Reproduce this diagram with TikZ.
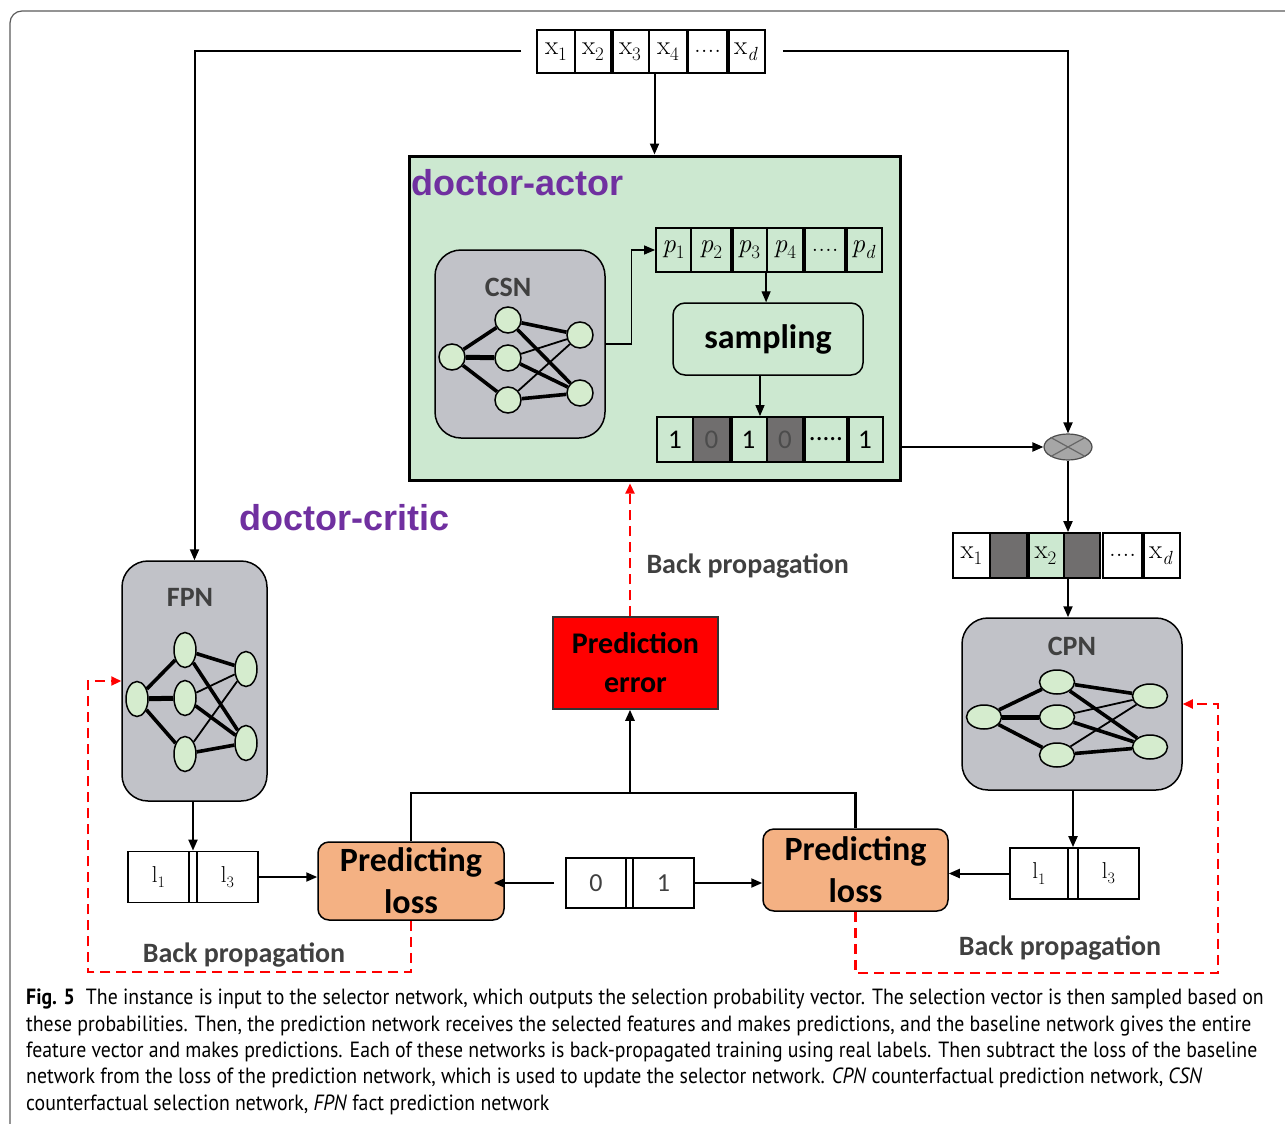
\documentclass[tikz,border=0pt]{standalone}
\usepackage{fontspec}
\newfontfamily\calf{Carlito}
\newfontfamily\arf{Liberation Sans}
\newfontfamily\capf[FakeStretch=0.9]{PT Sans}
\usetikzlibrary{arrows.meta,shapes.geometric}
\definecolor{actgreen}{RGB}{204,232,208}
\definecolor{netgray}{RGB}{193,194,200}
\definecolor{nodegreen}{RGB}{213,236,206}
\definecolor{cellgray}{RGB}{112,110,110}
\definecolor{lossor}{RGB}{244,177,131}
\definecolor{purp}{RGB}{112,48,160}
\definecolor{labgray}{RGB}{64,64,64}
\definecolor{framegray}{RGB}{90,90,90}
\newcommand\mysub[1]{\raisebox{-0.22em}{\fontsize{19}{20}\selectfont #1}}
\newcommand\xs[1]{x\mysub{#1}}
\newcommand\xps[1]{\textit{p}\mysub{#1}}
\newcommand\xls[1]{l\raisebox{-0.22em}{\fontsize{16}{18}\selectfont #1}}
\tikzset{
  cellA/.style={draw, line width=1.8pt, inner sep=0pt, minimum height=43pt, font=\fontsize{27}{30}\selectfont},
  cellB/.style={draw, line width=1.8pt, inner sep=0pt, minimum height=45pt, font=\calf\fontsize{27}{30}\selectfont},
  cellL/.style={draw, line width=1.8pt, inner sep=0pt, minimum height=51pt, font=\fontsize{23}{26}\selectfont},
  cellM/.style={draw, line width=1.8pt, inner sep=0pt, minimum height=50pt, font=\calf\fontsize{26}{30}\selectfont, text=black!75},
  thickdiv/.style={line width=4.5pt},
  arr/.style={-{Triangle[length=11pt,width=9pt]}, line width=2pt},
  rarr/.style={red, dash pattern=on 10pt off 6pt, line width=2.2pt, -{Triangle[length=10pt,width=9pt]}},
  netbox/.style={draw, line width=1.5pt, fill=netgray, rounded corners=26pt},
  nn/.style={ellipse, draw, fill=nodegreen, line width=1.5pt, inner sep=0pt},
  netlab/.style={font=\calf\bfseries\fontsize{28}{30}\selectfont, text=labgray},
  bplab/.style={font=\calf\bfseries\fontsize{28}{30}\selectfont, text=labgray},
  lossbox/.style={draw, line width=1.5pt, fill=lossor, rounded corners=11pt, align=center, font=\calf\bfseries\fontsize{34}{42}\selectfont},
  biglab/.style={font=\arf\bfseries\fontsize{36}{40}\selectfont, text=purp, inner sep=0pt}
}
\newcommand\mynet[9]{%
  \node[nn,minimum width=#8,minimum height=#9] (#1i) at (#2) {};
  \node[nn,minimum width=#8,minimum height=#9] (#1a) at (#3) {};
  \node[nn,minimum width=#8,minimum height=#9] (#1b) at (#4) {};
  \node[nn,minimum width=#8,minimum height=#9] (#1c) at (#5) {};
  \node[nn,minimum width=#8,minimum height=#9] (#1o) at (#6) {};
  \node[nn,minimum width=#8,minimum height=#9] (#1p) at (#7) {};
  \draw[line width=3.6pt] (#1i)--(#1a) (#1i)--(#1c) (#1a)--(#1o) (#1a)--(#1p) (#1b)--(#1p) (#1c)--(#1p);
  \draw[line width=5pt] (#1i)--(#1b);
  \draw[line width=1.8pt] (#1b)--(#1o) (#1c)--(#1o);
}
\begin{document}
\begin{tikzpicture}[x=1pt,y=-1pt]
\useasboundingbox (0,0) rectangle (1285,1124);
% outer frame
\draw[framegray, line width=1.2pt, rounded corners=12pt] (10,1130) -- (10,11) -- (1295,11);

% top feature array
\node[cellA, minimum width=38pt] (xa1) at (556,51.5) {\xs{1}};
\node[cellA, minimum width=36pt] (xa2) at (593,51.5) {\xs{2}};
\node[cellA, minimum width=38pt] (xa3) at (630,51.5) {\xs{3}};
\node[cellA, minimum width=38pt] (xa4) at (668,51.5) {\xs{4}};
\node[cellA, minimum width=39pt] (xa5) at (707.5,51.5) {....};
\node[cellA, minimum width=38pt] (xa6) at (746,51.5) {\xs{\textit{d}}};
\draw[thickdiv] (xa2.north east) -- (xa2.south east) (xa5.north east) -- (xa5.south east);

% doctor-actor
\node[draw, line width=3pt, fill=actgreen, minimum width=491pt, minimum height=324pt, inner sep=0pt] (actor) at (654.5,318) {};
\node[biglab, anchor=base west] (actlab) at (411,195) {doctor-actor};
\node[biglab, anchor=base west] (critlab) at (239,530) {doctor-critic};

% CSN
\node[netbox, minimum width=170pt, minimum height=188pt] (csn) at (520,344) {};
\node[netlab] (csnlab) at (508,287) {CSN};
\mynet{s}{452,357}{508,320}{508,358}{508,400}{580,335}{580,393}{26pt}{26pt}

% probability array
\node[cellA, minimum height=44pt, minimum width=35pt] (pa1) at (673.5,250) {\xps{1}};
\node[cellA, minimum height=44pt, minimum width=40pt] (pa2) at (711,250) {\xps{2}};
\node[cellA, minimum height=44pt, minimum width=36pt] (pa3) at (749,250) {\xps{3}};
\node[cellA, minimum height=44pt, minimum width=36pt] (pa4) at (785,250) {\xps{4}};
\node[cellA, minimum height=44pt, minimum width=40pt] (pa5) at (825,250) {....};
\node[cellA, minimum height=44pt, minimum width=37pt] (pa6) at (863.5,250) {\xps{\textit{d}}};
\draw[thickdiv] (pa2.north east) -- (pa2.south east) (pa5.north east) -- (pa5.south east);

% sampling
\node[draw, line width=1.5pt, fill=actgreen, rounded corners=12pt, minimum width=190pt, minimum height=72pt, font=\calf\bfseries\fontsize{34}{40}\selectfont] (samp) at (768,339) {sampling};

% binary array
\node[cellB, minimum width=36pt] (ba1) at (675,439.5) {1};
\node[cellB, minimum width=37pt, fill=cellgray, text=black!70] (ba2) at (711.5,439.5) {0};
\node[cellB, minimum width=37pt] (ba3) at (748.5,439.5) {1};
\node[cellB, minimum width=36pt, fill=cellgray, text=black!70] (ba4) at (785,439.5) {0};
\node[cellB, minimum width=42pt] (ba5) at (826,439.5) {.....};
\node[cellB, minimum width=36pt] (ba6) at (865,439.5) {1};
\draw[thickdiv] (ba2.north east) -- (ba2.south east) (ba5.north east) -- (ba5.south east);

% multiply node
\node[ellipse, draw=black!70, fill=black!35, line width=1.2pt, minimum width=48pt, minimum height=26pt, inner sep=0pt] (mult) at (1068,447) {};
\draw[black!60, line width=1.2pt] (mult.north west) -- (mult.south east) (mult.north east) -- (mult.south west);

% selected array
\node[cellA, minimum height=45pt, minimum width=37pt, fill=white] (xb1) at (971.5,555.5) {\xs{1}};
\node[cellA, minimum height=45pt, minimum width=37pt, fill=cellgray] (xb2) at (1008.5,555.5) {};
\node[cellA, minimum height=45pt, minimum width=37pt, fill=actgreen] (xb3) at (1045.5,555.5) {\xs{2}};
\node[cellA, minimum height=45pt, minimum width=36pt, fill=cellgray] (xb4) at (1082,555.5) {};
\node[cellA, minimum height=45pt, minimum width=39pt] (xb5) at (1122.5,555.5) {....};
\node[cellA, minimum height=45pt, minimum width=38pt] (xb6) at (1161,555.5) {\xs{\textit{d}}};
\draw[thickdiv] (xb2.north east) -- (xb2.south east) (xb5.north east) -- (xb5.south east);

% FPN
\node[netbox, minimum width=145pt, minimum height=240pt] (fpn) at (194.5,681) {};
\node[netlab] (fpnlab) at (190,597) {FPN};
\mynet{f}{137,699}{185,650}{185,698}{185,754}{246,669}{246,743}{22pt}{35pt}

% CPN
\node[netbox, minimum width=220pt, minimum height=172pt] (cpn) at (1072,704) {};
\node[netlab] (cpnlab) at (1072,646) {CPN};
\mynet{c}{984,717}{1057,682}{1057,717}{1057,755}{1150,696}{1150,747}{35pt}{24pt}

% label arrays
\node[cellL, minimum width=61pt] (la1) at (158.5,877) {\xls{1}};
\node[cellL, minimum width=8pt] (lag) at (193,877) {};
\node[cellL, minimum width=61pt] (la2) at (227.5,877) {\xls{3}};
\node[cellL, minimum width=58pt] (lb1) at (1039,873.5) {\xls{1}};
\node[cellL, minimum width=10pt] (lbg) at (1073,873.5) {};
\node[cellL, minimum width=61pt] (lb2) at (1108.5,873.5) {\xls{3}};

% losses
\node[lossbox, minimum width=186pt, minimum height=78pt] (lossL) at (411,881) {Predicting\\loss};
\node[lossbox, minimum width=185pt, minimum height=82pt] (lossR) at (855.5,870) {Predicting\\loss};

% middle true label array
\node[cellM, minimum width=60pt] (m1) at (596,883) {0};
\node[cellM, minimum width=7pt] (mg) at (629.5,883) {};
\node[cellM, minimum width=61pt] (m2) at (663.5,883) {1};

% prediction error
\node[draw=black!80, line width=1.5pt, fill=red, minimum width=165pt, minimum height=92pt, align=center, font=\calf\bfseries\fontsize{30}{39}\selectfont] (perr) at (635.5,663) {Prediction\\error};

% back propagation labels
\node[bplab, anchor=west] (bp1) at (643,566) {Back propagation};
\node[bplab] (bp2) at (244,955) {Back propagation};
\node[bplab] (bp3) at (1060,948) {Back propagation};

% coordinates
\coordinate (jn) at (630,793);
\coordinate (cl) at (88,972);
\coordinate (cr) at (1218,973);

% black connectors
\draw[arr] (actor.north |- xa4.south) -- (actor.north);
\draw[arr] ([xshift=-15pt]xa1.west) -| (fpn.north);
\draw[arr] ([xshift=17pt]xa6.east) -| (mult.north);
\draw[arr, line width=1.3pt] (csn.east) -- ++(26,0) |- (pa1.west);
\draw[arr, line width=1.3pt] (pa4.south west) -- (pa4.south west |- samp.north);
\draw[arr, line width=1.3pt] ([xshift=-8pt]samp.south) -- ([xshift=-8pt]samp.south |- ba3.north);
\draw[arr] (actor.east |- mult) -- (mult.west);
\draw[arr] (mult.south) -- (mult.south |- xb4.north);
\draw[arr] (mult.south |- xb4.south) -- (mult.south |- cpn.north);
\draw[arr] (fpn.south -| lag) -- (lag.north);
\draw[arr] (cpn.south -| lbg) -- (lbg.north);
\draw[arr] (la2.east) -- (la2.east -| lossL.west);
\draw[arr] (lb1.west) -- (lb1.west -| lossR.east);
\draw[arr] ([xshift=-11pt]m1.west) -- ([xshift=-11pt]m1.west -| lossL.east);
\draw[arr] (m2.east) -- (m2.east -| lossR.west);
\draw[line width=2.4pt] (lossL.north) |- (jn) -| (lossR.north);
\draw[arr, line width=2.4pt] (jn) -- (jn |- perr.south);

% red dashed back propagation
\draw[rarr] (jn |- perr.north) -- ([yshift=-2pt]jn |- actor.south);
\draw[rarr] (lossL.south) |- (cl) |- (fpn.west);
\draw[rarr] (lossR.south) |- (cr) |- (cpn.east);

% caption
\node[anchor=base west, align=left, inner sep=0pt, font=\capf\fontsize{22}{26.3}\selectfont] (cap) at (26,1110) {%
\textbf{Fig. 5}\enspace The instance is input to the selector network, which outputs the selection probability vector. The selection vector is then sampled based on\\
these probabilities. Then, the prediction network receives the selected features and makes predictions, and the baseline network gives the entire\\
feature vector and makes predictions. Each of these networks is back-propagated training using real labels. Then subtract the loss of the baseline\\
network from the loss of the prediction network, which is used to update the selector network. \textit{CPN} counterfactual prediction network, \textit{CSN}\\
counterfactual selection network, \textit{FPN} fact prediction network};
\end{tikzpicture}
\end{document}
